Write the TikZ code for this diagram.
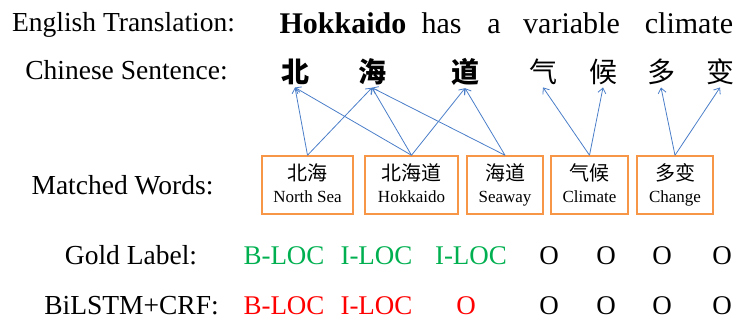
\documentclass[tikz,border=0pt]{standalone}
\usepackage{fontspec}
\setmainfont{Liberation Serif}
\newfontfamily\cjk{Noto Sans CJK SC}
\usetikzlibrary{arrows.meta}
\definecolor{linkblue}{HTML}{4A7EC8}
\definecolor{boxorange}{HTML}{F79646}
\definecolor{goldgreen}{HTML}{00B050}
\definecolor{wrongred}{HTML}{FF0000}
\tikzset{>={Straight Barb[length=5pt,width=8pt]},
  rowlabel/.style={anchor=base, inner sep=0pt, font=\fontsize{27.5}{30}\selectfont},
  word/.style={anchor=base, inner sep=0pt, font=\fontsize{30}{32}\selectfont},
  hanzi/.style={anchor=base, inner sep=2pt, font=\cjk\fontsize{28}{30}\selectfont},
  wordbox/.style={draw=boxorange, line width=1.5pt, minimum height=58pt, inner sep=0pt},
  tag/.style={anchor=base, inner sep=0pt, font=\fontsize{27}{30}\selectfont},
  link/.style={->, draw=linkblue, line width=0.8pt}}

\begin{document}
\begin{tikzpicture}[x=1pt,y=-1pt]
    \useasboundingbox (0,0) rectangle (736,320);
    \node[rowlabel] (trans) at (123.5,32) {English Translation:};
    \node[rowlabel] (sent) at (126.5,80) {Chinese Sentence:};
    \node[rowlabel] (match) at (122.5,195) {Matched Words:};
    \node[rowlabel] (gold) at (131,265) {Gold Label:};
    \node[rowlabel] (pred) at (131.5,314) {BiLSTM+CRF:};
    \node[word] (w1) at (343,34) {\bfseries Hokkaido};
    \node[word] (w2) at (441.5,34) {has};
    \node[word] (w3) at (494,34) {a};
    \node[word] (w4) at (571.5,34) {variable};
    \node[word] (w5) at (689,34) {climate};
    \node[hanzi] (c1) at (295,83) {\bfseries 北};
    \node[hanzi] (c2) at (372,83) {\bfseries 海};
    \node[hanzi] (c3) at (465,83) {\bfseries 道};
    \node[hanzi] (c4) at (543,83) {气};
    \node[hanzi] (c5) at (603,83) {候};
    \node[hanzi] (c6) at (661,83) {多};
    \node[hanzi] (c7) at (720,83) {变};
    \foreach \n/\x/\w/\cn/\en in {ns/307.5/91/北海/North Sea, hk/411.5/93/北海道/Hokkaido,
      sw/505/76/海道/Seaway, cl/589.5/77/气候/Climate, ch/675/76/多变/Change}
    {
    \node[wordbox, minimum width=\w pt] (\n) at (\x,185) {};
    \node[anchor=base, inner sep=0pt, font=\cjk\fontsize{20}{22}\selectfont] (\n cn) at (\x,181) {\cn};
    \node[anchor=base, inner sep=0pt, font=\fontsize{17}{19}\selectfont] (\n en) at (\x,203) {\en};
    }
    \foreach \a/\b in {ns/c1, ns/c2, hk/c1, hk/c2, hk/c3, sw/c2, sw/c3, cl/c4, cl/c5, ch/c6, ch/c7}
    \draw[link] (\a.north) -- (\b.south);
    \foreach \t/\x/\c [count=\i] in {B-LOC/284/goldgreen, I-LOC/376.5/goldgreen, I-LOC/471/goldgreen,
      O/549/black, O/606/black, O/662/black, O/722/black}
    \node[tag, text=\c] (g\i) at (\x,265) {\t};
    \foreach \t/\x/\c [count=\i] in {B-LOC/284/wrongred, I-LOC/376.5/wrongred, O/466/wrongred,
      O/549/black, O/606/black, O/662/black, O/722/black}
    \node[tag, text=\c] (p\i) at (\x,314) {\t};
\end{tikzpicture}
\end{document}
